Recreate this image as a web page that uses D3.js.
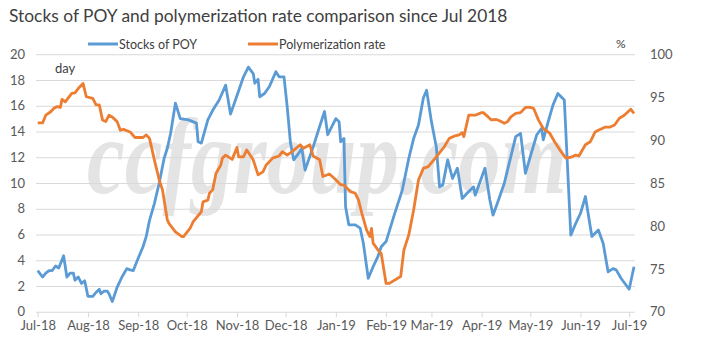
<!DOCTYPE html>
<html>
<head>
<meta charset="utf-8">
<script src="https://cdn.jsdelivr.net/npm/d3@7"></script>
<style>
  body { margin: 0; background: #fff; }
  svg { display: block; font-family: Lato, "Open Sans", sans-serif; }
</style>
</head>
<body>
<svg id="chart" width="715" height="363"></svg>
<script>
// Stocks of POY (days), left axis
var stockDates = ["2018-07-01","2018-07-04","2018-07-06","2018-07-08","2018-07-10","2018-07-12","2018-07-14","2018-07-17","2018-07-19","2018-07-21","2018-07-23","2018-07-24","2018-07-26","2018-07-28","2018-07-30","2018-08-01","2018-08-04","2018-08-06","2018-08-08","2018-08-09","2018-08-11","2018-08-13","2018-08-14","2018-08-16","2018-08-17","2018-08-19","2018-08-22","2018-08-25","2018-08-27","2018-08-29","2018-09-01","2018-09-04","2018-09-06","2018-09-08","2018-09-11","2018-09-14","2018-09-17","2018-09-19","2018-09-21","2018-09-24","2018-09-27","2018-10-02","2018-10-07","2018-10-08","2018-10-10","2018-10-14","2018-10-17","2018-10-21","2018-10-25","2018-10-28","2018-11-01","2018-11-05","2018-11-08","2018-11-11","2018-11-12","2018-11-14","2018-11-15","2018-11-18","2018-11-21","2018-11-25","2018-11-27","2018-11-30","2018-12-02","2018-12-04","2018-12-06","2018-12-09","2018-12-11","2018-12-13","2018-12-18","2018-12-21","2018-12-25","2018-12-27","2019-01-01","2019-01-03","2019-01-04","2019-01-06","2019-01-07","2019-01-09","2019-01-13","2019-01-16","2019-01-18","2019-01-21","2019-01-24","2019-01-27","2019-01-29","2019-02-01","2019-02-06","2019-02-11","2019-02-15","2019-02-18","2019-02-21","2019-02-24","2019-02-26","2019-03-01","2019-03-04","2019-03-06","2019-03-08","2019-03-11","2019-03-14","2019-03-17","2019-03-20","2019-03-23","2019-03-25","2019-03-27","2019-03-28","2019-04-03","2019-04-06","2019-04-08","2019-04-11","2019-04-15","2019-04-19","2019-04-22","2019-04-25","2019-04-28","2019-05-01","2019-05-05","2019-05-08","2019-05-09","2019-05-12","2019-05-15","2019-05-18","2019-05-22","2019-05-26","2019-05-29","2019-06-01","2019-06-04","2019-06-08","2019-06-12","2019-06-15","2019-06-18","2019-06-21","2019-06-23","2019-06-26","2019-07-01","2019-07-04"];
var stockValues = [3.2,2.7,3.0,3.2,3.2,3.55,3.4,4.35,2.7,3.0,3.0,2.45,2.7,2.2,2.4,1.2,1.2,1.5,1.75,1.4,1.6,1.6,1.4,0.8,1.15,1.9,2.7,3.35,3.25,3.2,4.15,5.05,5.85,7.1,8.4,10.0,11.9,12.7,13.85,16.2,15.0,14.9,14.65,13.2,13.1,14.9,15.65,16.45,17.6,15.35,16.8,18.25,19.0,18.5,17.75,18.05,16.7,16.95,17.5,18.65,18.25,18.25,15.9,13.1,11.8,12.3,12.7,11.0,12.8,14.0,15.55,13.75,15.0,14.75,13.2,13.45,8.15,6.75,6.75,6.5,5.3,2.6,3.5,4.3,5.05,5.45,7.5,9.45,11.9,13.45,14.5,16.6,17.2,14.75,12.8,9.7,9.85,11.8,10.35,11.15,8.8,9.2,9.45,9.7,9.05,11.15,8.7,7.5,8.55,10.0,12.05,13.6,13.85,10.75,12.05,13.75,14.25,13.35,14.75,16.05,16.95,16.45,5.95,6.85,7.65,8.95,5.85,6.35,5.3,3.1,3.35,3.25,2.6,1.75,3.5];

// Polymerization rate (%), right axis
var rateDates = ["2018-07-01","2018-07-04","2018-07-06","2018-07-09","2018-07-11","2018-07-13","2018-07-15","2018-07-16","2018-07-18","2018-07-22","2018-07-24","2018-07-26","2018-07-29","2018-07-31","2018-08-04","2018-08-06","2018-08-08","2018-08-10","2018-08-12","2018-08-14","2018-08-16","2018-08-19","2018-08-21","2018-08-23","2018-08-27","2018-08-30","2018-09-04","2018-09-06","2018-09-08","2018-09-11","2018-09-14","2018-09-16","2018-09-19","2018-09-20","2018-09-24","2018-09-28","2018-09-29","2018-10-03","2018-10-05","2018-10-10","2018-10-11","2018-10-14","2018-10-15","2018-10-17","2018-10-19","2018-10-22","2018-10-23","2018-10-25","2018-10-29","2018-11-01","2018-11-02","2018-11-05","2018-11-07","2018-11-11","2018-11-14","2018-11-17","2018-11-19","2018-11-23","2018-11-27","2018-11-29","2018-12-02","2018-12-05","2018-12-10","2018-12-12","2018-12-16","2018-12-18","2018-12-22","2018-12-24","2018-12-28","2018-12-31","2019-01-04","2019-01-06","2019-01-10","2019-01-13","2019-01-15","2019-01-17","2019-01-20","2019-01-22","2019-01-23","2019-01-24","2019-01-27","2019-01-29","2019-02-01","2019-02-03","2019-02-10","2019-02-12","2019-02-15","2019-02-18","2019-02-21","2019-02-24","2019-02-27","2019-03-04","2019-03-09","2019-03-12","2019-03-15","2019-03-18","2019-03-20","2019-03-21","2019-03-24","2019-03-28","2019-04-01","2019-04-02","2019-04-05","2019-04-07","2019-04-10","2019-04-12","2019-04-15","2019-04-17","2019-04-19","2019-04-22","2019-04-25","2019-04-28","2019-05-01","2019-05-03","2019-05-06","2019-05-09","2019-05-13","2019-05-16","2019-05-20","2019-05-23","2019-05-26","2019-05-29","2019-05-31","2019-06-04","2019-06-07","2019-06-10","2019-06-12","2019-06-16","2019-06-19","2019-06-22","2019-06-25","2019-06-28","2019-07-02","2019-07-04"];
var rateValues = [92.0,92.0,92.9,93.3,93.7,93.9,93.8,94.75,94.45,95.45,95.5,96.0,96.6,95.05,94.85,94.1,94.1,92.35,92.15,92.9,92.7,92.15,91.15,91.25,90.95,90.3,90.3,90.6,90.2,87.7,85.35,84.2,80.7,80.3,79.3,78.75,78.75,79.7,80.5,81.65,82.8,83.0,83.8,84.2,86.1,87.1,87.9,88.25,87.75,89.15,88.05,88.05,88.85,87.7,85.95,86.3,87.1,87.9,88.15,88.65,88.25,88.65,89.45,89.05,89.45,88.15,87.7,85.75,86.05,85.55,84.8,84.75,84.0,83.8,83.0,81.5,79.5,78.75,79.7,78.0,77.2,76.8,73.3,73.3,74.1,77.2,78.95,81.85,85.35,86.7,86.9,88.05,89.25,90.2,90.45,90.6,90.85,90.4,92.9,92.9,93.2,93.2,92.7,92.35,92.4,92.25,91.95,92.15,92.7,93.1,93.2,93.8,93.8,93.7,92.35,91.35,90.8,89.8,88.65,87.9,88.0,88.25,88.15,89.45,89.8,90.95,91.15,91.5,91.5,91.75,92.55,92.9,93.6,93.1];

var monthTicks = ["2018-07-01","2018-08-01","2018-09-01","2018-10-01","2018-11-01","2018-12-01","2019-01-01","2019-02-01","2019-03-01","2019-04-01","2019-05-01","2019-06-01","2019-07-01"];
var leftTicks = [0, 2, 4, 6, 8, 10, 12, 14, 16, 18, 20];
var rightTicks = [70, 75, 80, 85, 90, 95, 100];

var titleText = "Stocks of POY and polymerization rate comparison since Jul 2018";
var seriesNames = ["Stocks of POY", "Polymerization rate"];
var colors = ["#5b9bd5", "#ed7d31"];

var parse = d3.timeParse("%Y-%m-%d");
var svg = d3.select("#chart");

var x = d3.scaleTime()
    .domain([parse("2018-07-01"), parse("2019-07-04")])
    .range([37.7, 634]);
var yL = d3.scaleLinear().domain([0, 20]).range([311.75, 54.25]);
var yR = d3.scaleLinear().domain([70, 100]).range([311.75, 54.25]);

// title
svg.append("text")
    .attr("x", 9).attr("y", 22)
    .attr("font-size", 17.4)
    .attr("fill", "#404040")
    .text(titleText);

// watermark, stretched vertically so its box stays inside the plot
svg.append("text")
    .attr("transform", "translate(87,193) scale(1,1.22)")
    .attr("font-family", "'Liberation Serif', 'DejaVu Serif', serif")
    .attr("font-style", "italic")
    .attr("font-weight", "bold")
    .attr("font-size", 88)
    .attr("textLength", 480)
    .attr("lengthAdjust", "spacingAndGlyphs")
    .attr("fill", "#e4e4e4")
    .text("ccfgroup.com");

// gridlines
svg.append("g")
  .selectAll("line")
  .data(leftTicks.filter(function(d) { return d > 0; }))
  .enter().append("line")
    .attr("x1", 36).attr("x2", 635)
    .attr("y1", function(d) { return yL(d) + 0.5; })
    .attr("y2", function(d) { return yL(d) + 0.5; })
    .attr("stroke", "#d9d9d9")
    .attr("stroke-width", 1);

// x axis
var xAxis = d3.axisBottom(x)
    .tickValues(monthTicks.map(parse))
    .tickFormat(d3.timeFormat("%b-%y"))
    .tickSize(5)
    .tickPadding(4);

var gx = svg.append("g")
    .attr("transform", "translate(0," + (yL(0) + 0.5) + ")")
    .call(xAxis);
gx.select(".domain").attr("d", "M36,0H635").attr("stroke", "#d9d9d9");
gx.selectAll(".tick line").attr("stroke", "#d9d9d9");
gx.selectAll(".tick text").attr("fill", "#595959").attr("font-size", 13)
    .attr("font-family", "Lato, sans-serif");

// left axis
var gl = svg.append("g")
    .attr("transform", "translate(25,0)")
    .call(d3.axisLeft(yL).tickValues(leftTicks).tickSize(0).tickPadding(0));
gl.select(".domain").remove();
gl.selectAll(".tick text").attr("fill", "#595959").attr("font-size", 13)
    .attr("font-family", "Lato, sans-serif");

// right axis
var gr = svg.append("g")
    .attr("transform", "translate(650,0)")
    .call(d3.axisRight(yR).tickValues(rightTicks).tickSize(0).tickPadding(0));
gr.select(".domain").remove();
gr.selectAll(".tick text").attr("fill", "#595959").attr("font-size", 13)
    .attr("font-family", "Lato, sans-serif");

// unit labels
svg.append("text").attr("x", 55).attr("y", 73)
    .attr("font-size", 13).attr("fill", "#404040").text("day");
svg.append("text").attr("x", 616).attr("y", 48)
    .attr("font-size", 12).attr("fill", "#404040").text("%");

// lines
var stockData = stockDates.map(function(d, i) { return { date: parse(d), value: stockValues[i] }; });
var rateData = rateDates.map(function(d, i) { return { date: parse(d), value: rateValues[i] }; });

svg.append("path")
    .datum(stockData)
    .attr("fill", "none")
    .attr("stroke", colors[0])
    .attr("stroke-width", 2.8)
    .attr("stroke-linejoin", "round")
    .attr("d", d3.line()
        .x(function(d) { return x(d.date); })
        .y(function(d) { return yL(d.value); }));

svg.append("path")
    .datum(rateData)
    .attr("fill", "none")
    .attr("stroke", colors[1])
    .attr("stroke-width", 2.8)
    .attr("stroke-linejoin", "round")
    .attr("d", d3.line()
        .x(function(d) { return x(d.date); })
        .y(function(d) { return yR(d.value); }));

// legend
var legendX = [88, 248];
var legend = svg.append("g").selectAll("g")
    .data(seriesNames)
    .enter().append("g")
    .attr("transform", function(d, i) { return "translate(" + legendX[i] + ",44)"; });
legend.append("line")
    .attr("x1", 0).attr("x2", 30)
    .attr("stroke", function(d, i) { return colors[i]; })
    .attr("stroke-width", 3);
legend.append("text")
    .attr("x", 31).attr("y", 4.5)
    .attr("font-size", 12.5)
    .attr("fill", "#404040")
    .text(function(d) { return d; });
</script>
</body>
</html>
